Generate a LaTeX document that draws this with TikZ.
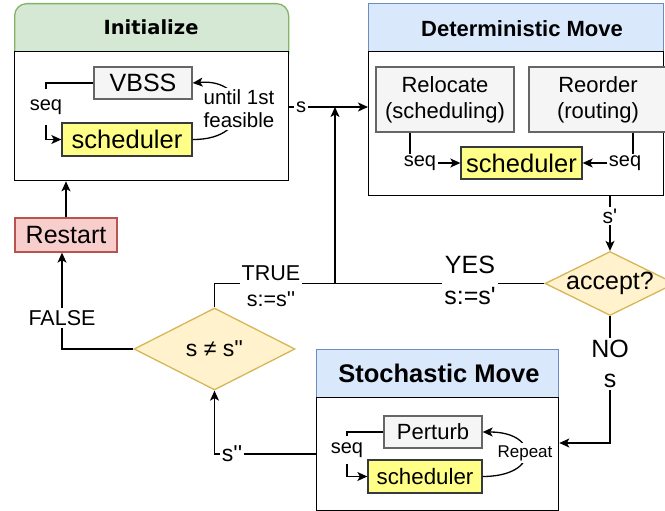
\documentclass[tikz,border=0pt]{standalone}
\usepackage{fontspec}
\setmainfont{Liberation Sans}
\newfontfamily\arial{Liberation Sans}
\newfontfamily\verd{DejaVu Sans}
\usetikzlibrary{arrows.meta,shapes.geometric,calc}
\definecolor{grnF}{HTML}{D5E8D4}\definecolor{grnD}{HTML}{82B366}
\definecolor{bluF}{HTML}{DAE8FC}\definecolor{bluD}{HTML}{6C8EBF}
\definecolor{gryF}{HTML}{F5F5F5}\definecolor{gryD}{HTML}{666666}
\definecolor{ylwF}{HTML}{FFFF88}\definecolor{ylwD}{HTML}{36393D}
\definecolor{dmdF}{HTML}{FFF2CC}\definecolor{dmdD}{HTML}{D6B656}
\definecolor{redF}{HTML}{F8CECC}\definecolor{redD}{HTML}{B85450}
\newcommand\fsz[2]{\fontsize{#1pt}{#2pt}\selectfont}
\begin{document}
\begin{tikzpicture}[x=1pt,y=-1pt,line width=1.3pt,
  >={Stealth[length=10pt,width=9pt,inset=2.5pt]},
  every node/.style={inner sep=0pt},
  container/.style={draw=black,fill=white},
  header/.style={draw=bluD,fill=bluF,anchor=north west},
  greybox/.style={draw=gryD,fill=gryF,align=center,font=\arial\fsz{22}{26}},
  sched/.style={draw=ylwD,fill=ylwF,font=\arial\fsz{25.5}{30}},
  decision/.style={diamond,draw=dmdD,fill=dmdF},
  lab/.style={fill=white,inner sep=2pt,align=center,font=\arial\fsz{20}{23}},
  title/.style={font=\arial\bfseries\fsz{22}{26}}]
\useasboundingbox (0,0) rectangle (665,511);

% ---------- Initialize ----------
\node[draw=grnD,fill=grnF,rounded corners=12pt,minimum width=274pt,minimum height=62pt,anchor=north west] (inithead) at (14,3) {};
\node[container,minimum width=274pt,minimum height=129pt,anchor=north west] (initbody) at (14,51) {};
\node[font=\verd\bfseries\fsz{19.5}{23}] (inittitle) at (151,27) {Initialize};
\node[greybox,font=\arial\fsz{25}{30},minimum width=98pt,minimum height=32pt] (vbss) at (143,83) {VBSS};
\node[sched,minimum width=130pt,minimum height=33pt] (sched1) at (127,139.5) {scheduler};
\node[font=\arial\fsz{20}{23},minimum height=34pt] (seq1) at (46,107) {seq};

% ---------- Deterministic Move ----------
\node[header,minimum width=295pt,minimum height=48pt] (dethead) at (368,3) {};
\node[container,minimum width=295pt,minimum height=144pt,anchor=north west] (detbody) at (368,51) {};
\node[title] (dettitle) at (522,29) {Deterministic Move};
\node[greybox,minimum width=138pt,minimum height=65pt] (reloc) at (445,99.5) {Relocate\\(scheduling)};
\node[greybox,minimum width=138pt,minimum height=65pt] (reord) at (598,99.5) {Reorder\\(routing)};
\node[sched,minimum width=121pt,minimum height=32pt] (sched2) at (521.5,163) {scheduler};

% ---------- Stochastic Move ----------
\node[header,minimum width=242pt,minimum height=48pt] (sthead) at (316,349) {};
\node[container,minimum width=242pt,minimum height=113pt,anchor=north west] (stbody) at (316,397) {};
\node[title,font=\arial\bfseries\fsz{25.5}{30}] (sttitle) at (439,373) {Stochastic Move};
\node[greybox,minimum width=98pt,minimum height=32pt] (perturb) at (433,432) {Perturb};
\node[sched,font=\arial\fsz{22.3}{27},minimum width=114pt,minimum height=33pt] (sched3) at (425,476.5) {scheduler};
\node[font=\arial\fsz{20}{23},minimum height=26pt] (seq4) at (347,450) {seq};

% ---------- decisions and restart ----------
\node[decision,minimum width=130pt,minimum height=64pt,font=\arial\fsz{25}{30}] (accept) at (610,283.5) {\makebox[0pt]{accept?}};
\node[decision,minimum width=161pt,minimum height=82pt,font=\arial\fsz{23}{27}] (neq) at (214.5,349) {\makebox[0pt]{s ≠ s''}};
\node[draw=redD,fill=redF,minimum width=102pt,minimum height=34pt,font=\arial\fsz{25}{30}] (restart) at (66,235) {Restart};
\coordinate (j) at (335,283.5);

% ---------- connectors inside Initialize ----------
\draw (vbss.west) -| (seq1.north);
\draw[->] (seq1.south) |- (sched1.west);
\draw[->] (sched1.east) .. controls (255,140) and (250,78) .. (vbss.east);
\node[lab,font=\arial\fsz{20.5}{23}] (until) at (239,109) {until 1st\\feasible};

% ---------- connectors inside Deterministic Move ----------
\draw[->] ([xshift=-35pt]reloc.south) |- (sched2.west);
\draw[->] ([xshift=35pt]reord.south) |- (sched2.east);
\node[lab] (seq2) at (420,163) {seq};
\node[lab] (seq3) at (625,163) {seq};

% ---------- connectors inside Stochastic Move ----------
\draw (perturb.west) -| (seq4.north);
\draw[->] (seq4.south) |- (sched3.west);
\draw[->] (sched3.east) .. controls (540,476.5) and (540,432) .. (perturb.east);
\node[lab,font=\arial\fsz{17}{20}] (repeat) at (525,453) {Repeat};

% ---------- main flow ----------
\draw[->] (initbody.east |- 0,107) -- node[lab,pos=0.15] (slab) {s} (detbody.west |- 0,107);
\draw[->] (j) -- (j |- slab);
\draw[->] (detbody.south -| accept.north) -- node[lab,pos=0.36,font=\arial\fsz{21}{25}] (sp) {s'} (accept.north);
\draw (accept.west) -- (j);
\node[lab,font=\arial\fsz{25}{31}] (yes) at (470,280) {YES\\s:=s'};
\draw (neq.north) |- (j);
\node[lab,font=\arial\fsz{21.5}{26}] (true) at (271,286) {TRUE\\s:=s''};
\draw[->] (neq.west) -| ([xshift=-4pt]restart.south);
\node[lab,font=\arial\fsz{21.5}{26}] (false) at (62,318) {FALSE};
\draw[->] (restart.north) -- (restart.north |- initbody.south);
\draw[->] (accept.south) |- (stbody.east |- 0,443);
\node[lab,font=\arial\fsz{25}{30}] (nos) at (610,364) {NO\\s};
\draw[->] (stbody.west |- 0,454) -| (neq.south);
\node[lab,font=\arial\fsz{23}{27}] (spp) at (232,454) {s''};
\end{tikzpicture}
\end{document}
